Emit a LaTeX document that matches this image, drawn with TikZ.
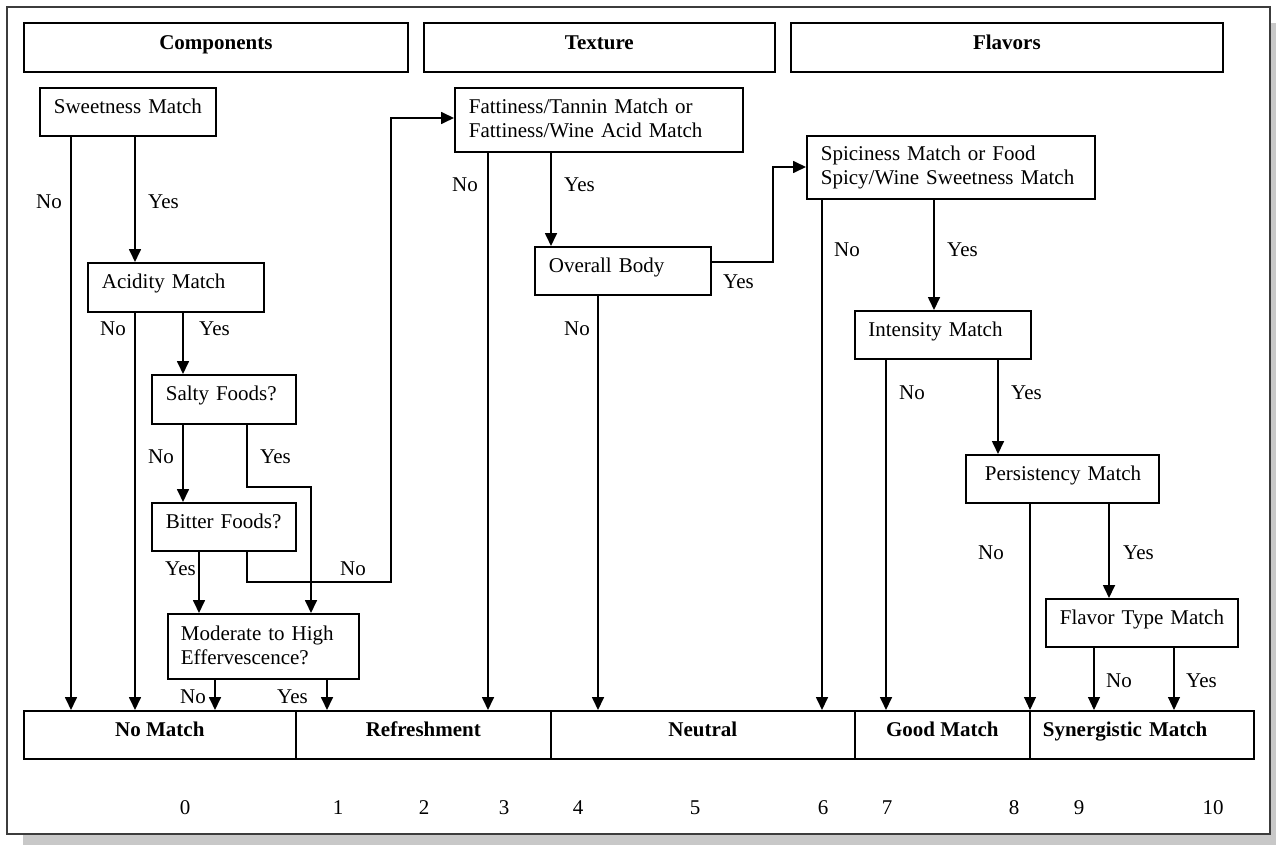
\documentclass[tikz,border=0pt]{standalone}
\usepackage{fontspec}
\setmainfont{Liberation Serif}
\usetikzlibrary{arrows.meta}
\definecolor{shadowgray}{RGB}{200,200,200}
\definecolor{framegray}{RGB}{60,60,60}
\begin{document}
\begin{tikzpicture}[x=1pt,y=-1pt,
  every node/.style={font=\fontsize{21}{24}\selectfont},
  box/.style={draw, line width=1.7pt, anchor=north west, inner xsep=14pt, inner ysep=0pt, text height=26pt, text depth=22pt, align=left},
  hdr/.style={draw, line width=1.7pt, anchor=north west, inner xsep=0pt, inner ysep=0pt, text height=27pt, text depth=22pt, font=\fontsize{21}{24}\selectfont\bfseries},
  res/.style={draw, line width=1.7pt, anchor=north west, inner xsep=0pt, inner ysep=0pt, text height=26pt, text depth=22pt, minimum height=48pt, font=\fontsize{21}{24}\selectfont\bfseries},
  lbl/.style={anchor=base west, inner sep=0pt},
  num/.style={anchor=base, inner sep=0pt},
  arr/.style={line width=1.7pt, -{Triangle[length=13pt,width=12pt]}},
  thinarr/.style={line width=1.1pt, -{Triangle[length=13pt,width=12pt]}}
]
\useasboundingbox (0,0) rectangle (1276,845);
% shadow and frame
\fill[shadowgray] (23,23) rectangle (1276,845);
\filldraw[fill=white, draw=framegray, line width=1.3pt] (7,7) rectangle (1270,834);

% headers
\node[hdr, minimum width=384pt] (comp) at (23,22) {Components};
\node[hdr, minimum width=351pt] (text) at (423,22) {Texture};
\node[hdr, minimum width=432pt] (flavors) at (790,22) {Flavors};

% decision boxes
\node[box, text width=148pt] (sweet) at (39,87) {\mbox{Sweetness Match}};
\node[box, text width=148pt, text depth=23pt] (acid) at (87,262) {\mbox{Acidity Match}};
\node[box, text width=116pt, text depth=23pt] (salty) at (151,374) {\mbox{Salty Foods?}};
\node[box, text width=116pt] (bitter) at (151,502) {\mbox{Bitter Foods?}};
\node[box, text width=165pt, inner xsep=13pt, text height=27pt, text depth=38pt] (mod) at (167,613) {\mbox{Moderate to High}\\\mbox{Effervescence?}};
\node[box, text width=260pt, text depth=38pt] (fatt) at (454,87) {\mbox{Fattiness/Tannin Match or}\\\mbox{Fattiness/Wine Acid Match}};
\node[box, text width=148pt] (body) at (534,246) {\mbox{Overall Body}};
\node[box, text width=260pt, text height=25pt, text depth=38pt] (spicy) at (806,135) {\mbox{Spiciness Match or Food}\\\mbox{Spicy/Wine Sweetness Match}};
\node[box, text width=149pt, inner xsep=13.5pt] (inten) at (854,310) {\mbox{Intensity Match}};
\node[box, text width=165pt] (pers) at (965,454) {\hspace*{5pt}\mbox{Persistency Match}};
\node[box, text width=164pt] (flav) at (1045,598) {\mbox{Flavor Type Match}};

% result boxes
\node[res, minimum width=272pt] (nomatch) at (23,710) {No Match};
\node[res, minimum width=255pt] (refresh) at (295,710) {Refreshment};
\node[res, minimum width=304pt] (neutral) at (550,710) {Neutral};
\node[res, minimum width=175pt] (good) at (854,710) {Good Match};
\node[res, text width=198pt, inner xsep=13pt, align=left] (syn) at (1029,710) {Synergistic Match};

% connectors
\draw[arr] (sweet.south -| 71,0) -- (nomatch.north -| 71,0);
\draw[arr] (sweet.south -| 135,0) -- (acid.north -| 135,0);
\draw[arr] (acid.south -| 135,0) -- (nomatch.north -| 135,0);
\draw[arr] (acid.south -| 183,0) -- (salty.north -| 183,0);
\draw[arr] (salty.south -| 183,0) -- (bitter.north -| 183,0);
\draw[arr] (salty.south -| 247,0) -- (247,487) -- (311,487) -- (mod.north -| 311,0);
\draw[arr] (bitter.south -| 199,0) -- (mod.north -| 199,0);
\draw[arr] (bitter.south -| 247,0) -- (247,582) -- (391,582) -- (391,118) -- (fatt.west |- 0,118);
\draw[arr] (mod.south -| 215,0) -- (nomatch.north -| 215,0);
\draw[arr] (mod.south -| 327,0) -- (refresh.north -| 327,0);
\draw[arr] (fatt.south -| 488,0) -- (refresh.north -| 488,0);
\draw[arr] (fatt.south -| 551,0) -- (body.north -| 551,0);
\draw[arr] (body.south -| 598,0) -- (neutral.north -| 598,0);
\draw[arr] (body.east |- 0,262) -- (773,262) -- (773,167) -- (spicy.west |- 0,167);
\draw[arr] (spicy.south -| 822,0) -- (neutral.north -| 822,0);
\draw[arr] (spicy.south -| 934,0) -- (inten.north -| 934,0);
\draw[arr] (inten.south -| 886,0) -- (good.north -| 886,0);
\draw[arr] (inten.south -| 998,0) -- (pers.north -| 998,0);
\draw[thinarr] (pers.south -| 1030,0) -- (syn.north -| 1030,0);
\draw[arr] (pers.south -| 1109,0) -- (flav.north -| 1109,0);
\draw[thinarr] (flav.south -| 1094,0) -- (syn.north -| 1094,0);
\draw[thinarr] (flav.south -| 1174,0) -- (syn.north -| 1174,0);

% connector labels
\node[lbl] (l1) at (36,208) {No};
\node[lbl] (l2) at (148,208) {Yes};
\node[lbl] (l3) at (100,335) {No};
\node[lbl] (l4) at (199,335) {Yes};
\node[lbl] (l5) at (148,463) {No};
\node[lbl] (l6) at (260,463) {Yes};
\node[lbl] (l7) at (165,575) {Yes};
\node[lbl] (l8) at (340,575) {No};
\node[lbl] (l9) at (180,703) {No};
\node[lbl] (l10) at (277,703) {Yes};
\node[lbl] (l11) at (452,192) {No};
\node[lbl] (l12) at (564,192) {Yes};
\node[lbl] (l13) at (723,288) {Yes};
\node[lbl] (l14) at (564,335) {No};
\node[lbl] (l15) at (834,256) {No};
\node[lbl] (l16) at (947,256) {Yes};
\node[lbl] (l17) at (899,399) {No};
\node[lbl] (l18) at (1011,399) {Yes};
\node[lbl] (l19) at (978,559) {No};
\node[lbl] (l20) at (1123,559) {Yes};
\node[lbl] (l21) at (1106,687) {No};
\node[lbl] (l22) at (1186,687) {Yes};

% scale numbers
\node[num] (n0) at (185,814) {0};
\node[num] (n1) at (338,814) {1};
\node[num] (n2) at (424,814) {2};
\node[num] (n3) at (504,814) {3};
\node[num] (n4) at (578,814) {4};
\node[num] (n5) at (695,814) {5};
\node[num] (n6) at (823,814) {6};
\node[num] (n7) at (887,814) {7};
\node[num] (n8) at (1014,814) {8};
\node[num] (n9) at (1079,814) {9};
\node[num] (n10) at (1213,814) {10};
\end{tikzpicture}
\end{document}
